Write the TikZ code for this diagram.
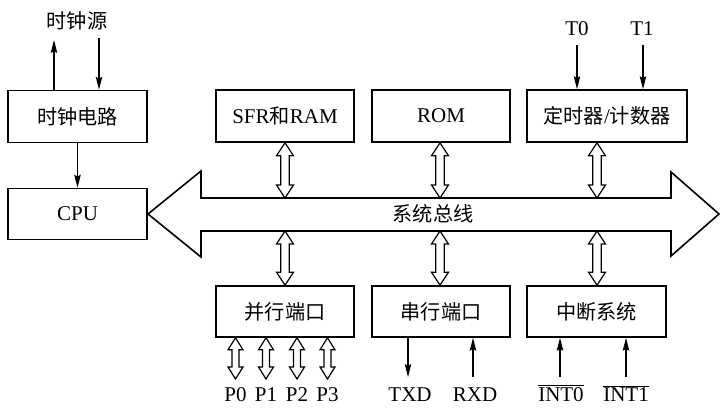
\documentclass[tikz,border=0pt]{standalone}
\usepackage{fontspec}
\setmainfont{Liberation Serif}
\newfontfamily\cjk[Scale=0.96]{Noto Sans CJK SC}
\usetikzlibrary{arrows.meta,calc}
\tikzset{
  box/.style={draw, line width=1.6pt, minimum width=138pt, minimum height=52pt, inner sep=0pt, font=\fontsize{21}{25}\selectfont},
  lbl/.style={inner sep=0pt, font=\fontsize{21}{25}\selectfont},
  sig/.style={line width=1.2pt, -{Stealth[length=13pt,width=6.5pt,inset=2pt]}},
  dbl/.style={draw, fill=white, line width=1.2pt, line join=miter},
  busstyle/.style={draw, fill=white, line width=1.6pt, line join=miter}
}
% vertical double arrow between two named points (same x taken from the first)
\newcommand{\vdbl}[5]{% #1 top, #2 bottom, #3 head half width, #4 shaft half width, #5 head length
  \path[dbl] let \p1=(#1), \p2=(#2) in
   (\x1,\y1) -- (\x1+#3,\y1-#5) -- (\x1+#4,\y1-#5) -- (\x1+#4,\y2+#5) -- (\x1+#3,\y2+#5)
   -- (\x1,\y2) -- (\x1-#3,\y2+#5) -- (\x1-#4,\y2+#5) -- (\x1-#4,\y1-#5) -- (\x1-#3,\y1-#5) -- cycle;
}
\begin{document}
\begin{tikzpicture}[x=1pt,y=-1pt]
\useasboundingbox (0,0) rectangle (720,407);

% bus
\path[busstyle] (148,214) -- (201,171) -- (201,198) -- (671,198) -- (671,172) -- (719,214)
  -- (671,256) -- (671,231) -- (201,231) -- (201,257) -- cycle;
\node[lbl] (bus) at (433,214) {\cjk 系统总线};

% boxes
\node[box, minimum width=139pt] (clk) at (77.5,116.5) {\cjk 时钟电路};
\node[box, minimum width=139pt, minimum height=51pt] (cpu) at (77.5,214) {CPU};
\node[box] (sfr) at (285,116) {SFR{\cjk 和}RAM};
\node[box] (rom) at (441,116) {ROM};
\node[box, minimum width=160pt] (tmr) at (607,116) {{\cjk 定时器}/{\cjk 计数器}};
\node[box, minimum height=51pt] (par) at (285,311.5) {\cjk 并行端口};
\node[box, minimum height=51pt] (ser) at (441,311.5) {\cjk 串行端口};
\node[box, minimum width=139pt, minimum height=51pt] (irq) at (596.5,311.5) {\cjk 中断系统};

% labels
\node[lbl] (src) at (77,21) {\cjk 时钟源};
\node[lbl, anchor=base] (t0) at (577,35) {T0};
\node[lbl, anchor=base] (t1) at (642,35) {T1};
\node[lbl, anchor=base] (p0) at (235.5,401) {P0};
\node[lbl, anchor=base] (p1) at (266,401) {P1};
\node[lbl, anchor=base] (p2) at (297,401) {P2};
\node[lbl, anchor=base] (p3) at (327.5,401) {P3};
\node[lbl, anchor=base] (txd) at (410,401) {TXD};
\node[lbl, anchor=base] (rxd) at (475,401) {RXD};
\node[lbl, anchor=base] (int0) at (561,401) {\(\overline{\mbox{INT0}}\)};
\node[lbl, anchor=base] (int1) at (626,401) {\(\overline{\mbox{INT1}}\)};

% coordinates
\coordinate (clkout) at (54,40);
\coordinate (clkin) at (99,38);
\coordinate (t0top) at (577,45);
\coordinate (t1top) at (643,45);
\coordinate (txdend) at (408,377);
\coordinate (rxdend) at (473,377);
\coordinate (i0end) at (560,377);
\coordinate (i1end) at (626,377);

% single-line signals
\draw[sig] (clkout |- clk.north) -- (clkout);
\draw[sig] (clkin) -- (clkin |- clk.north);
\draw[sig] (clk.south) -- (cpu.north);
\draw[sig] (t0top) -- (t0top |- tmr.north);
\draw[sig] (t1top) -- (t1top |- tmr.north);
\draw[sig] (txdend |- ser.south) -- (txdend);
\draw[sig] (rxdend) -- (rxdend |- ser.south);
\draw[sig] (i0end) -- (i0end |- irq.south);
\draw[sig] (i1end) -- (i1end |- irq.south);

% bus double arrows
\coordinate (bt1) at (285,198); \coordinate (bb1) at (285,231);
\coordinate (bt2) at (440,198); \coordinate (bb2) at (440,231);
\coordinate (bt3) at (597,198); \coordinate (bb3) at (597,231);
\vdbl{sfr.south}{bt1}{8.5pt}{4.3pt}{13pt}
\vdbl{bt2 |- rom.south}{bt2}{8.5pt}{4.3pt}{13pt}
\vdbl{bt3 |- tmr.south}{bt3}{8.5pt}{4.3pt}{13pt}
\vdbl{bb1}{par.north}{8.5pt}{4.3pt}{13pt}
\vdbl{bb2}{bb2 |- ser.north}{8.5pt}{4.3pt}{13pt}
\vdbl{bb3}{irq.north}{8.5pt}{4.3pt}{13pt}

% port double arrows
\coordinate (q0) at (235.5,379); \coordinate (q1) at (266,379);
\coordinate (q2) at (297,379); \coordinate (q3) at (327.5,379);
\vdbl{q0 |- par.south}{q0}{7.5pt}{3.5pt}{12pt}
\vdbl{q1 |- par.south}{q1}{7.5pt}{3.5pt}{12pt}
\vdbl{q2 |- par.south}{q2}{7.5pt}{3.5pt}{12pt}
\vdbl{q3 |- par.south}{q3}{7.5pt}{3.5pt}{12pt}
\end{tikzpicture}
\end{document}
